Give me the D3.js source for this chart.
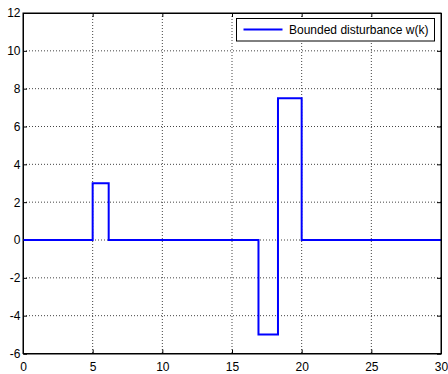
<!DOCTYPE html>
<html>
<head>
<meta charset="utf-8">
<script src="https://cdn.jsdelivr.net/npm/d3@7"></script>
<style>
  body { margin: 0; background: #fff; }
  svg { display: block; font-family: "Liberation Sans", Arial, sans-serif; }
</style>
</head>
<body>
<div class="container"></div>
<script>
// Step signal: breakpoints (k) and the value held from each one
const kValues = [0, 5, 6.15, 16.9, 18.3, 20, 30];
const wValues = [0, 3, 0, -5, 7.5, 0, 0];
const xTicks = [0, 5, 10, 15, 20, 25, 30];
const yTicks = [-6, -4, -2, 0, 2, 4, 6, 8, 10, 12];
const seriesName = 'Bounded disturbance w(k)';

const width = 448;
const height = 374;
const plotLeft = 23, plotRight = 441, plotTop = 13, plotBottom = 353.5;

// MATLAB prints a plain hyphen for negatives
const fmt = d => String(d);

const svg = d3.select('.container')
  .append('svg')
  .attr('width', width)
  .attr('height', height);

const xScale = d3.scaleLinear().domain([0, 30]).range([plotLeft, plotRight]);
const yScale = d3.scaleLinear().domain([-6, 12]).range([plotBottom, plotTop]);

// grid lines
svg.append('g')
  .selectAll('line')
  .data(xTicks.slice(1, -1))
  .enter()
  .append('line')
  .attr('x1', d => xScale(d)).attr('x2', d => xScale(d))
  .attr('y1', plotTop).attr('y2', plotBottom)
  .attr('stroke', '#444')
  .attr('stroke-width', 1)
  .attr('stroke-dasharray', '1,2');

svg.append('g')
  .selectAll('line')
  .data(yTicks.slice(1, -1))
  .enter()
  .append('line')
  .attr('x1', plotLeft).attr('x2', plotRight)
  .attr('y1', d => yScale(d)).attr('y2', d => yScale(d))
  .attr('stroke', '#444')
  .attr('stroke-width', 1)
  .attr('stroke-dasharray', '1,2');

// axes (ticks point inward, MATLAB style)
const xAxis = d3.axisBottom(xScale).tickValues(xTicks).tickSize(-4).tickPadding(8.5).tickFormat(fmt);
const yAxis = d3.axisLeft(yScale).tickValues(yTicks).tickSize(-4).tickPadding(2.5).tickFormat(fmt);

svg.append('g')
  .attr('transform', `translate(0, ${plotBottom})`)
  .call(xAxis);
svg.append('g')
  .attr('transform', `translate(${plotLeft}, 0)`)
  .call(yAxis);

svg.append('g')
  .attr('transform', `translate(0, ${plotTop})`)
  .call(d3.axisTop(xScale).tickValues(xTicks).tickSize(-4).tickFormat(''));
svg.append('g')
  .attr('transform', `translate(${plotRight}, 0)`)
  .call(d3.axisRight(yScale).tickValues(yTicks).tickSize(-4).tickFormat(''));

svg.selectAll('.domain').attr('stroke', '#000');
svg.selectAll('.tick line').attr('stroke', '#000');
svg.selectAll('.tick text').attr('font-size', 12).attr('fill', '#000')
  .attr('font-family', '"Liberation Sans", Arial, sans-serif');

// the signal as a step line
const points = kValues.map((k, i) => [k, wValues[i]]);
const line = d3.line()
  .x(d => xScale(d[0]))
  .y(d => yScale(d[1]))
  .curve(d3.curveStepAfter);

svg.append('path')
  .datum(points)
  .attr('d', line)
  .attr('fill', 'none')
  .attr('stroke', '#0000ff')
  .attr('stroke-width', 2);

// axes box on top
svg.append('rect')
  .attr('x', plotLeft).attr('y', plotTop)
  .attr('width', plotRight - plotLeft).attr('height', plotBottom - plotTop)
  .attr('fill', 'none')
  .attr('stroke', '#000')
  .attr('stroke-width', 1);

// legend
const legend = svg.append('g').attr('transform', 'translate(236.5, 18.5)');
legend.append('rect')
  .attr('width', 198).attr('height', 22.5)
  .attr('fill', '#fff')
  .attr('stroke', '#000')
  .attr('stroke-width', 1);
legend.append('line')
  .attr('x1', 7).attr('x2', 46)
  .attr('y1', 11).attr('y2', 11)
  .attr('stroke', '#0000ff')
  .attr('stroke-width', 2);
legend.append('text')
  .attr('x', 52.5).attr('y', 15.5)
  .attr('font-size', 12)
  .text(seriesName);
</script>
</body>
</html>
